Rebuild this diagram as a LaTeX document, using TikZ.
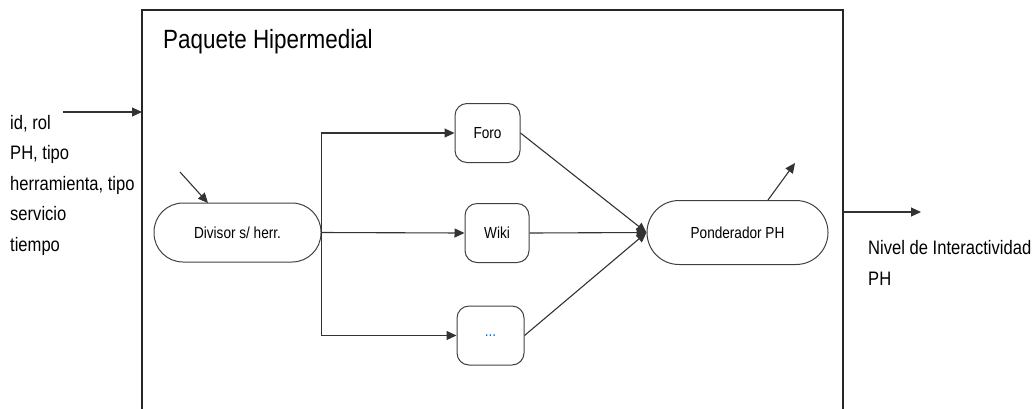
\documentclass[tikz,border=0pt]{standalone}
\usepackage{fontspec}
\setmainfont{Liberation Sans}[FakeStretch=0.85]
\usetikzlibrary{arrows.meta}
\begin{document}
\begin{tikzpicture}[x=1pt,y=-1pt,
  line/.style={draw=black!80, line width=1.1pt},
  arr/.style={line, -{Triangle[length=10pt,width=9pt]}},
  pill/.style={draw=black!75, line width=1pt, rounded corners=29pt, minimum height=59pt, font=\fontsize{16}{18}\selectfont, inner sep=0pt},
  tool/.style={draw=black!75, line width=1pt, rounded corners=12pt, minimum width=65pt, minimum height=59pt, font=\fontsize{16}{18}\selectfont, inner sep=0pt},
  lbl/.style={font=\fontsize{19.5}{30.5}\selectfont, align=left, inner sep=0pt}]
\useasboundingbox (0,0) rectangle (1032,408);

% package frame (open at the bottom)
\draw[line width=2.2pt, black!85] (142,420) -- (142,10) -- (843,10) -- (843,420);
\node[anchor=west, font=\fontsize{26.4}{30}\selectfont, inner sep=0pt] (title) at (163,42) {Paquete Hipermedial};

% processing nodes
\node[pill, minimum width=167pt] (div) at (237.5,232.5) {Divisor s/ herr.};
\node[tool] (foro) at (487.5,133) {Foro};
\node[tool, minimum width=64pt] (wiki) at (497,233) {Wiki};
\node[tool, minimum width=67pt] (dots) at (490.5,335.5) {\textcolor{blue!60!cyan}{...}};
\node[pill, minimum width=181pt, minimum height=64pt, rounded corners=32pt] (pond) at (737.5,232.5) {Ponderador PH};

% inputs
\coordinate (inStart) at (63,112);
\coordinate (inEnd) at (142,112);
\draw[arr] (inStart) -- (inEnd);
\node[lbl, anchor=north west] (inputs) at (10,115) {id, rol\\PH, tipo\\herramienta, tipo\\servicio\\tiempo};
\coordinate (sideIn) at (180,172);
\coordinate (sideTip) at (208,203);
\draw[arr] (sideIn) -- (sideTip);

% distribution to the tools
\draw[arr] (div.east) |- (foro.west);
\draw[arr] (div.east) -- (wiki.west);
\draw[arr] (div.east) |- (dots.west);

% aggregation
\draw[arr] (foro.east) -- (pond.west);
\draw[arr] (wiki.east) -- (pond.west);
\draw[arr] (dots.east) -- (pond.west);

% outputs
\coordinate (upStart) at (768,200);
\coordinate (upEnd) at (795,163);
\draw[arr] (upStart) -- (upEnd);
\coordinate (outStart) at (843,212);
\coordinate (outEnd) at (921,212);
\draw[arr] (outStart) -- (outEnd);
\node[lbl, anchor=north west, font=\fontsize{19.5}{31.5}\selectfont] (result) at (868,240) {Nivel de Interactividad\\PH};
\end{tikzpicture}
\end{document}
